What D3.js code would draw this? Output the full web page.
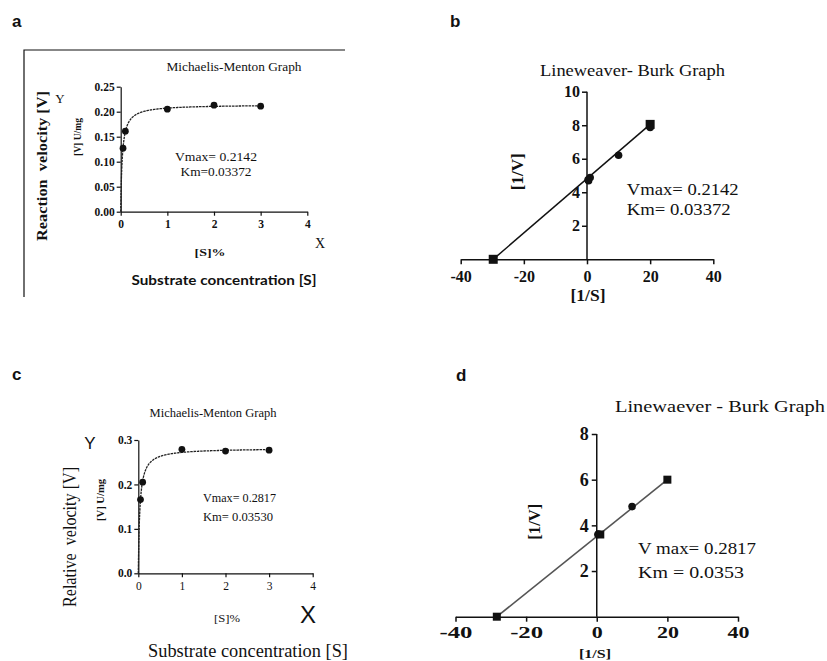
<!DOCTYPE html>
<html><head><meta charset="utf-8">
<script src="https://cdn.jsdelivr.net/npm/d3@7"></script>
<style>body{margin:0;background:#fff}svg{display:block}text{white-space:pre}</style>
</head><body>
<script>
// ---------- data ----------
const mmA_S = [0.05, 0.1, 1, 2, 3];
const mmA_V = [0.127, 0.161, 0.205, 0.213, 0.211];
const mmA_fit = {Vmax: 0.2142, Km: 0.03372};
const mmA_xTicks = [0, 1, 2, 3, 4];
const mmA_yTicks = [0, 0.05, 0.10, 0.15, 0.20, 0.25];

const lbB_x = [20, 10, 1, 0.5, 0.333];
const lbB_y = [7.87, 6.21, 4.88, 4.69, 4.74];
const lbB_lineX = [-29.7, 20];
const lbB_lineY = [0, 8.05];
const lbB_xTicks = [-40, -20, 0, 20, 40];
const lbB_yTicks = [2, 4, 6, 8, 10];

const mmC_S = [0.05, 0.1, 1, 2, 3];
const mmC_V = [0.166, 0.205, 0.279, 0.275, 0.277];
const mmC_fit = {Vmax: 0.2817, Km: 0.0353};
const mmC_xTicks = [0, 1, 2, 3, 4];
const mmC_yTicks = [0, 0.1, 0.2, 0.3];

const lbD_x = [20, 10, 1, 0.5, 0.333];
const lbD_y = [6.0, 4.82, 3.6, 3.62, 3.6];
const lbD_shape = ["square", "circle", "square", "circle", "circle"];
const lbD_lineX = [-28.3, 20];
const lbD_lineY = [0, 6.0];
const lbD_xTicks = [-40, -20, 0, 20, 40];
const lbD_yTicks = [2, 4, 6, 8];

// ---------- helpers ----------
const W = 827, H = 661;
const svg = d3.select("body").append("svg").attr("width", W).attr("height", H);
const SERIF = "'Liberation Serif','Times New Roman',serif";
const SANS = "'Liberation Sans',Arial,sans-serif";
const intFmt = d => String(d);

function txt(str, x, y, o = {}) {
  const t = svg.append("text")
    .attr("x", 0).attr("y", 0)
    .attr("font-family", o.family || SERIF)
    .attr("font-size", o.size || 12)
    .attr("font-weight", o.weight || "normal")
    .attr("text-anchor", o.anchor || "middle")
    .attr("fill", o.fill || "#111")
    .attr("transform", `translate(${x},${y})` + (o.rotate ? ` rotate(${o.rotate})` : ""))
    .text(str);
  if (o.len) t.attr("textLength", o.len).attr("lengthAdjust", "spacingAndGlyphs");
  return t;
}

function styleAxis(g, o) {
  g.attr("font-family", SERIF);
  g.selectAll("path.domain").attr("stroke", "#111").attr("stroke-width", o.sw || 1.3);
  g.selectAll(".tick line").attr("stroke", "#111").attr("stroke-width", o.sw || 1.3);
  g.selectAll(".tick text").attr("font-family", SERIF).attr("font-weight", "bold")
    .attr("font-size", o.fs).attr("fill", "#111");
}

// ---------- panel labels ----------
[["a", 12, 27], ["b", 450, 27], ["c", 12, 380], ["d", 456, 381]].forEach(d =>
  txt(d[0], d[1], d[2], {family: SANS, weight: "bold", size: 17, anchor: "start"}));

// ================= Panel a =================
{
  svg.append("path").attr("d", "M345,50 H24 V297").attr("fill", "none").attr("stroke", "#111").attr("stroke-width", 1.2);
  const x = d3.scaleLinear().domain([0, 4]).range([120.7, 307.3]);
  const y = d3.scaleLinear().domain([0, 0.25]).range([211.7, 86.7]);
  const gx = svg.append("g").attr("transform", `translate(0,${y(0)})`)
    .call(d3.axisBottom(x).tickValues(mmA_xTicks).tickSize(4).tickSizeOuter(0).tickPadding(4).tickFormat(intFmt));
  styleAxis(gx, {fs: 11.5, sw: 1.2});
  const gy = svg.append("g").attr("transform", `translate(${x(0)},0)`)
    .call(d3.axisLeft(y).tickValues(mmA_yTicks).tickSize(4).tickSizeOuter(0).tickPadding(2).tickFormat(d3.format(".2f")));
  styleAxis(gy, {fs: 11.5, sw: 1.2});
  const fitS = d3.range(0, 3.0001, 0.005);
  svg.append("path").datum(fitS)
    .attr("d", d3.line().x(s => x(s)).y(s => y(mmA_fit.Vmax * s / (mmA_fit.Km + s))))
    .attr("fill", "none").attr("stroke", "#222").attr("stroke-width", 1.3).attr("stroke-dasharray", "2.5,0.8");
  svg.selectAll(".ptA").data(mmA_S).join("circle")
    .attr("cx", (d) => x(d)).attr("cy", (d, i) => y(mmA_V[i])).attr("r", 3.4).attr("fill", "#111");
  txt("Michaelis-Menton Graph", 234, 71, {size: 11.5, len: 135});
  txt("Vmax= 0.2142", 216, 161, {size: 12.5, len: 82});
  txt("Km=0.03372", 216, 176, {size: 12.5, len: 71});
  txt("Y", 60, 103, {size: 13});
  txt("X", 320, 248, {size: 14});
  txt("[S]%", 210, 256, {size: 11, weight: "bold", len: 31});
  txt("[V] U/mg", 80.5, 137, {size: 10, weight: "bold", rotate: -90, len: 38});
  txt("Reaction  velocity [V]", 47, 166, {size: 15, weight: "bold", rotate: -90, len: 150});
  txt("Substrate concentration [S]", 224, 285, {family: "Lato,'Open Sans',sans-serif", size: 14, weight: "bold", len: 185});
}

// ================= Panel b =================
{
  const x = d3.scaleLinear().domain([-40, 40]).range([460.7, 713.3]);
  const y = d3.scaleLinear().domain([0, 10]).range([259.3, 91.7]);
  const gx = svg.append("g").attr("transform", `translate(0,${y(0)})`)
    .call(d3.axisBottom(x).tickValues(lbB_xTicks).tickSize(5).tickSizeOuter(0).tickPadding(6).tickFormat(intFmt));
  styleAxis(gx, {fs: 16, sw: 1.5});
  const gy = svg.append("g").attr("transform", `translate(${x(0)},0)`)
    .call(d3.axisLeft(y).tickValues(lbB_yTicks).tickSize(5).tickSizeOuter(0).tickPadding(2).tickFormat(intFmt));
  styleAxis(gy, {fs: 16, sw: 1.5});
  gy.select("path.domain").attr("d", `M0,${y(0)}V${y(10)}`);
  svg.append("line")
    .attr("x1", x(lbB_lineX[0])).attr("y1", y(lbB_lineY[0]))
    .attr("x2", x(lbB_lineX[1])).attr("y2", y(lbB_lineY[1]))
    .attr("stroke", "#111").attr("stroke-width", 1.5);
  svg.selectAll(".sqB").data(lbB_lineX).join("rect")
    .attr("x", d => x(d) - 4.5).attr("y", (d, i) => y(lbB_lineY[i]) - 4.5)
    .attr("width", 9).attr("height", 9).attr("fill", "#111");
  svg.selectAll(".ptB").data(lbB_x).join("circle")
    .attr("cx", d => x(d)).attr("cy", (d, i) => y(lbB_y[i])).attr("r", 3.8).attr("fill", "#111");
  txt("Lineweaver- Burk Graph", 632.5, 76, {size: 17, len: 185});
  txt("Vmax= 0.2142", 626.7, 195, {size: 17, anchor: "start", len: 112});
  txt("Km= 0.03372", 626.7, 215, {size: 17, anchor: "start", len: 104});
  txt("[1/V]", 523, 171.7, {size: 16, weight: "bold", rotate: -90, len: 37});
  txt("[1/S]", 588, 301, {size: 16, weight: "bold", len: 35});
}

// ================= Panel c =================
{
  const x = d3.scaleLinear().domain([0, 4]).range([138.3, 312.7]);
  const y = d3.scaleLinear().domain([0, 0.3]).range([573.3, 440]);
  const gx = svg.append("g").attr("transform", `translate(0,${y(0)})`)
    .call(d3.axisBottom(x).tickValues(mmC_xTicks).tickSize(4).tickSizeOuter(0).tickPadding(5).tickFormat(intFmt));
  styleAxis(gx, {fs: 11.5, sw: 1.2});
  gx.selectAll(".tick text").attr("font-weight", "normal");
  const gy = svg.append("g").attr("transform", `translate(${x(0)},0)`)
    .call(d3.axisLeft(y).tickValues(mmC_yTicks).tickSize(4).tickSizeOuter(0).tickPadding(2).tickFormat(d3.format(".1f")));
  styleAxis(gy, {fs: 11.5, sw: 1.2});
  const fitS = d3.range(0, 3.0001, 0.005);
  svg.append("path").datum(fitS)
    .attr("d", d3.line().x(s => x(s)).y(s => y(mmC_fit.Vmax * s / (mmC_fit.Km + s))))
    .attr("fill", "none").attr("stroke", "#222").attr("stroke-width", 1.3).attr("stroke-dasharray", "2.5,0.8");
  svg.selectAll(".ptC").data(mmC_S).join("circle")
    .attr("cx", d => x(d)).attr("cy", (d, i) => y(mmC_V[i])).attr("r", 3.4).attr("fill", "#111");
  txt("Michaelis-Menton Graph", 213, 417, {size: 11.5, len: 127});
  txt("Vmax= 0.2817", 203, 502, {size: 12.5, anchor: "start", len: 73});
  txt("Km= 0.03530", 203, 521, {size: 12.5, anchor: "start", len: 70});
  txt("Y", 90, 449, {family: SANS, size: 17});
  txt("X", 308, 623, {family: SANS, size: 24});
  txt("[S]%", 227, 622, {size: 10, weight: "normal", len: 26});
  txt("[V] U/mg", 103.5, 500, {size: 10, weight: "bold", rotate: -90, len: 42});
  txt("Relative  velocity [V]", 76, 537, {size: 18, rotate: -90, len: 140});
  txt("Substrate concentration [S]", 248, 657, {size: 18, len: 200});
}

// ================= Panel d =================
{
  const x = d3.scaleLinear().domain([-40, 40]).range([455.5, 738]);
  const y = d3.scaleLinear().domain([0, 8]).range([616.7, 434]);
  const gx = svg.append("g").attr("transform", `translate(0,${y(0)})`)
    .call(d3.axisBottom(x).tickValues(lbD_xTicks).tickSize(5).tickSizeOuter(0).tickPadding(4).tickFormat(intFmt));
  styleAxis(gx, {fs: 17.5, sw: 1.5});
  gx.selectAll(".tick text").attr("textLength", function (d) { return String(d).length * 11; }).attr("lengthAdjust", "spacingAndGlyphs");
  const gy = svg.append("g").attr("transform", `translate(${x(0)},0)`)
    .call(d3.axisLeft(y).tickValues(lbD_yTicks).tickSize(5).tickSizeOuter(0).tickPadding(3).tickFormat(intFmt));
  styleAxis(gy, {fs: 18, sw: 1.5});
  gy.select("path.domain").attr("d", `M0,${y(0)}V${y(8)}`);
  svg.append("line")
    .attr("x1", x(lbD_lineX[0])).attr("y1", y(lbD_lineY[0]))
    .attr("x2", x(lbD_lineX[1])).attr("y2", y(lbD_lineY[1]))
    .attr("stroke", "#555").attr("stroke-width", 1.6);
  svg.append("rect").attr("x", x(lbD_lineX[0]) - 4).attr("y", y(lbD_lineY[0]) - 4)
    .attr("width", 8).attr("height", 8).attr("fill", "#111");
  lbD_x.forEach((v, i) => {
    if (lbD_shape[i] === "square") {
      svg.append("rect").attr("x", x(v) - 4).attr("y", y(lbD_y[i]) - 4).attr("width", 8).attr("height", 8).attr("fill", "#111");
    } else {
      svg.append("circle").attr("cx", x(v)).attr("cy", y(lbD_y[i])).attr("r", 3.8).attr("fill", "#111");
    }
  });
  txt("Linewaever - Burk Graph", 615, 412, {size: 17, anchor: "start", len: 210});
  txt("V max= 0.2817", 638, 554, {size: 17, anchor: "start", len: 118});
  txt("Km = 0.0353", 638, 578, {size: 17, anchor: "start", len: 106});
  txt("[1/V]", 540, 521.7, {size: 16, weight: "bold", rotate: -90, len: 36});
  txt("[1/S]", 595, 657.5, {size: 13.5, weight: "bold", len: 32});
}
</script>
</body></html>
